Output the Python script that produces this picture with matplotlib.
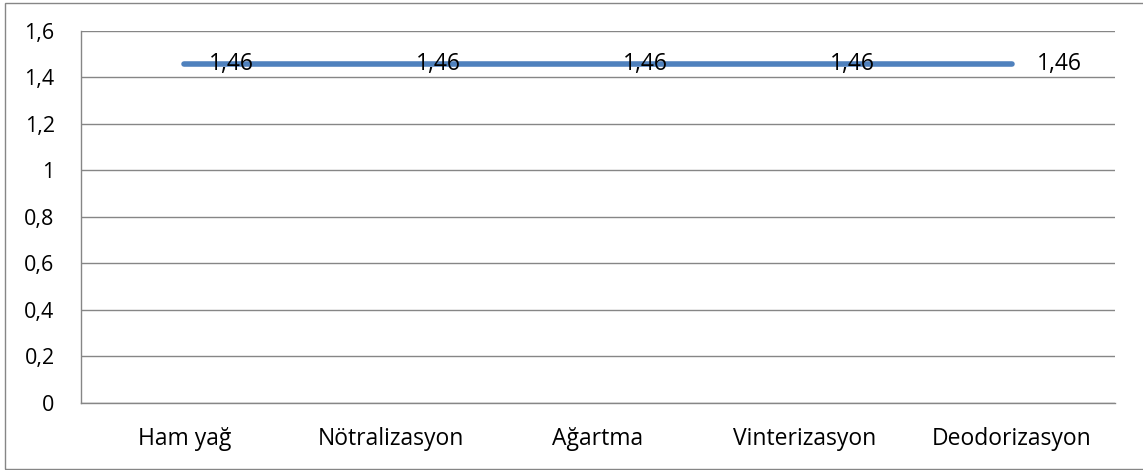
import matplotlib.pyplot as plt
from matplotlib.patches import Rectangle

# process steps and measured value
stages = ["Ham yağ", "Nötralizasyon", "Ağartma", "Vinterizasyon", "Deodorizasyon"]
values = [1.46, 1.46, 1.46, 1.46, 1.46]
yticks = [0, 0.2, 0.4, 0.6, 0.8, 1, 1.2, 1.4, 1.6]

plt.rcParams['font.family'] = ['Open Sans', 'DejaVu Sans']

W, H = 1143, 470
fig = plt.figure(figsize=(W / 100, H / 100), dpi=100)
ax = fig.add_axes([81 / W, (H - 402.7) / H, (1115 - 81) / W, (402.7 - 31) / H])

x = list(range(len(stages)))
ax.plot(x, values, color="#4F81BD", linewidth=4, solid_capstyle="round", zorder=3)
for xi, v in zip(x, values):
    ax.annotate(f"{v:.2f}".replace(".", ","), (xi, v), xytext=(18, 0),
                textcoords="offset points", ha="left", va="center",
                fontsize=16.5, color="black", zorder=4)

ax.set_xlim(-0.5, len(stages) - 0.5)
ax.set_ylim(0, 1.6)
ax.set_yticks(yticks)
ax.set_yticklabels([f"{t:g}".replace(".", ",") for t in yticks])
ax.set_xticks(x)
ax.set_xticklabels(stages)
ax.tick_params(axis="both", length=0, colors="black")
ax.tick_params(axis="y", pad=19, labelsize=15.5)
ax.tick_params(axis="x", pad=17.5, labelsize=16.5)
ax.grid(axis="y", color="#868686", linewidth=1)
ax.set_axisbelow(True)
for s in ["top", "right"]:
    ax.spines[s].set_visible(False)
for s in ["left", "bottom"]:
    ax.spines[s].set_color("#868686")
    ax.spines[s].set_linewidth(1)

# chart outer border
fig.patches.append(Rectangle((5 / W, 1.5 / H), 1.2, (467 - 1.5) / H,
                             transform=fig.transFigure, fill=False,
                             edgecolor="#868686", linewidth=1))

fig.savefig("out.png", dpi=100)
